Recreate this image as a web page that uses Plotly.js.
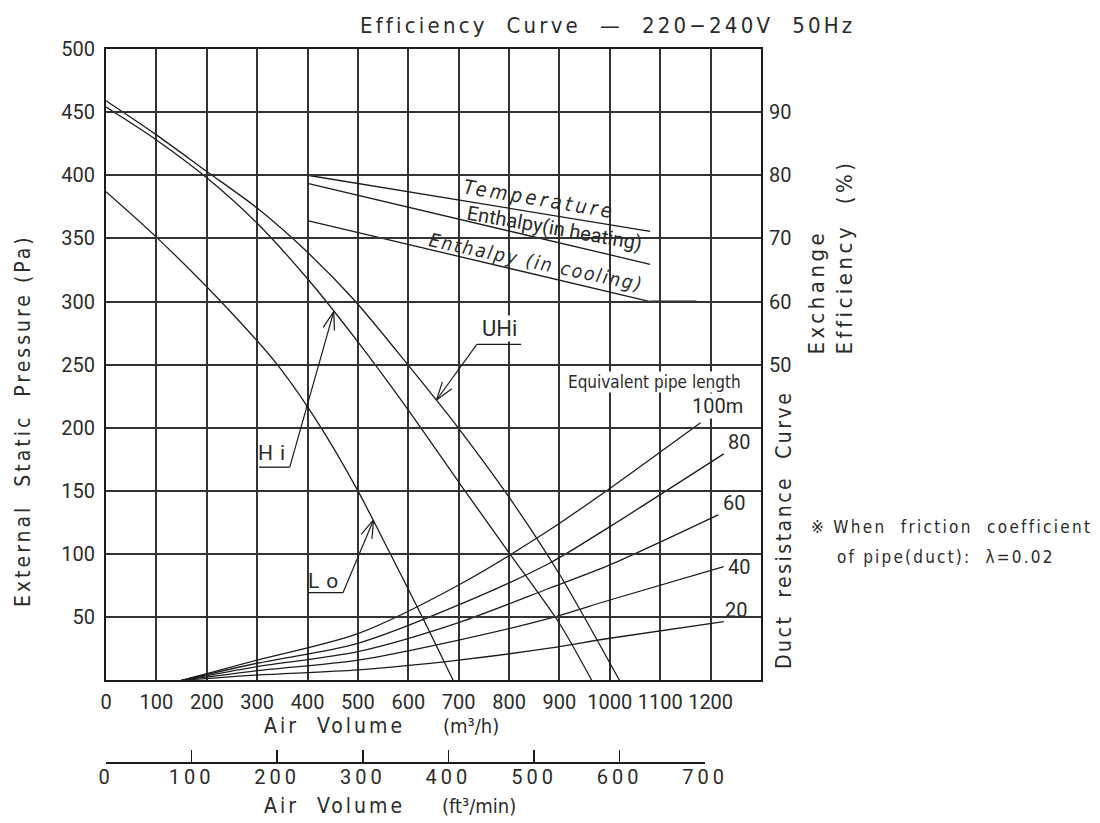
<!DOCTYPE html>
<html><head><meta charset="utf-8">
<script src="https://cdn.plot.ly/plotly-3.0.1.min.js"></script>
<style>
body{margin:0;background:#fff}
#chart{width:1100px;height:823px}
text[data-unformatted^="Efficiency"]{letter-spacing:3.2px}
text[data-unformatted^="External"]{letter-spacing:3px}
text[data-unformatted^="Exchange"]{letter-spacing:3.5px}
text[data-unformatted^="Duct"]{letter-spacing:2.5px}
text[data-unformatted^="※"]{letter-spacing:2.3px}
text[data-unformatted^="of pipe"]{letter-spacing:2.2px}
text[data-unformatted^="Air"]{letter-spacing:3px}
text[data-unformatted="Temperature"]{letter-spacing:3.5px}
text[data-unformatted="Enthalpy (in cooling)"]{letter-spacing:2px}
text[data-unformatted="Hi"],text[data-unformatted="Lo"]{letter-spacing:7px}
.x2tick text{letter-spacing:4px}
</style></head><body><div id="chart"></div><script>
// ---------- data ----------
const xTickVals = [0,100,200,300,400,500,600,700,800,900,1000,1100,1200];
const yTickVals = [50,100,150,200,250,300,350,400,450,500];
const effTickVals = [50,60,70,80,90];
const cfmTickVals = [0,100,200,300,400,500,600,700];

// fan curves: air volume (m3/h) vs external static pressure (Pa)
const uhiX = [0,100,200,300,400,493,599,699,800,900,1019];
const uhiP = [459,432,403,374,339,301,250,200,145,84,0];
const hiX  = [0,100,200,300,400,500,600,700,800,900,964];
const hiP  = [454,428,398,362,318,268,214,157,101,45,0];
const loX  = [0,100,228,340,427,500,562,628,689];
const loP  = [387,351,300,250,200,150,102,50,0];

// duct resistance curves (equivalent pipe length)
const ductX   = [150,300,500,700,880,1000];
const duct100 = [0,16,37,75.5,119,152];
const duct80  = [0,13.5,29.3,59.7,92.7,121.7];
const duct60  = [0,10.8,22.7,45.7,72.9,91.4];
const duct40  = [0,7.6,16,31.9,49,63.6];
const duct20  = [0,4.2,8.2,16,25.4,33.3];
const ductEndX = {d100:1180, d80:1226, d60:1215, d40:1226, d20:1226};
const ductEndP = {d100:204, d80:179.3, d60:131, d40:90, d20:46.4};

// exchange efficiency (%)
const effX = [400,1080];
const effTemp = [80,71.1];
const effHeat = [78.7,65.9];
const effCool = [72.8,60.0];
const coolLeadX = [1080,1172];
const coolLeadY = [60,60];

// ---------- chart ----------
const INK = '#1c1c1c';
const GRID = '#333';
const TXT = '#2b2b2b';
const NARROW = "'Liberation Sans Narrow','DejaVu Sans Condensed','Roboto Condensed',sans-serif";
const REG = "Roboto, 'Open Sans', sans-serif";

function line(x, y, opts) {
  return Object.assign({x:x, y:y, type:'scatter', mode:'lines', hoverinfo:'skip', showlegend:false,
    line:{color:INK, width:1.3, shape:'spline', smoothing:0.8}}, opts||{});
}
const traces = [
  line(uhiX, uhiP), line(hiX, hiP), line(loX, loP),
  line(ductX.concat([ductEndX.d100]), duct100.concat([ductEndP.d100])),
  line(ductX.concat([ductEndX.d80]), duct80.concat([ductEndP.d80])),
  line(ductX.concat([ductEndX.d60]), duct60.concat([ductEndP.d60])),
  line(ductX.concat([ductEndX.d40]), duct40.concat([ductEndP.d40])),
  line(ductX.concat([ductEndX.d20]), duct20.concat([ductEndP.d20])),
  line(effX, effTemp, {yaxis:'y2', line:{color:INK, width:1.3}}),
  line(effX, effHeat, {yaxis:'y2', line:{color:INK, width:1.3}}),
  line(effX, effCool, {yaxis:'y2', line:{color:INK, width:1.3}}),
  line(coolLeadX, coolLeadY, {yaxis:'y2', line:{color:INK, width:2}}),
  {x:[], y:[], xaxis:'x2', yaxis:'y', type:'scatter', mode:'lines', showlegend:false, hoverinfo:'skip'}
];

const W = 1100, H = 823, L = 106, R = 761, T = 49, B = 762;
const mainBottom = 680.3;
const pX = v => (v - L) / (R - L);
const pY = v => (B - v) / (B - T);
const SX = (R - L) / 1300, SY = (mainBottom - T) / 500;   // px per data unit

const tickFont = {family: REG, size: 20, color: TXT};

function ann(text, x, y, o) {
  return Object.assign({text:text, x:x, y:y, xref:'paper', yref:'paper', showarrow:false,
    xanchor:'center', yanchor:'middle', font:{family:NARROW, size:21, color:TXT}}, o||{});
}
function dAnn(text, x, y, o) {
  return Object.assign({text:text, x:x, y:y, xref:'x', yref:'y', showarrow:false,
    xanchor:'center', yanchor:'middle', font:{family:REG, size:20, color:TXT}}, o||{});
}
function seg(x0, y0, x1, y1, w) {
  return {type:'line', xref:'x', yref:'y', x0:x0, y0:y0, x1:x1, y1:y1, line:{color:INK, width:w||1.3}};
}
// leader with open arrow head: tip on the curve, tail at the label underline
function leader(tipX, tipY, tailX, tailY) {
  const dx = (tailX - tipX) * SX, dy = -(tailY - tipY) * SY;
  const len = Math.hypot(dx, dy), ux = dx / len, uy = dy / len;
  const out = [seg(tailX, tailY, tipX, tipY, 1.2)];
  [18, -18].forEach(function (deg) {
    const a = deg * Math.PI / 180, hl = 19;
    const rx = ux * Math.cos(a) - uy * Math.sin(a), ry = ux * Math.sin(a) + uy * Math.cos(a);
    out.push(seg(tipX, tipY, tipX + rx * hl / SX, tipY - ry * hl / SY, 1.2));
  });
  return out;
}

const annotations = [
  ann('Efficiency\u00a0 Curve\u00a0 —\u00a0 220−240V\u00a0 50Hz', pX(607), pY(25), {font:{family:NARROW, size:22, color:TXT}}),
  ann('External\u00a0 Static\u00a0 Pressure (Pa)', pX(23), pY(421), {textangle:-90}),
  ann('Exchange<br>Efficiency\u00a0 (%)', pX(830), pY(357), {textangle:-90, align:'left', yanchor:'bottom', font:{family:NARROW, size:22, color:TXT}}),
  ann('Duct\u00a0 resistance\u00a0 Curve', pX(784), pY(530), {textangle:-90}),
  ann('※ When\u00a0 friction\u00a0 coefficient', pX(809), pY(526.5), {xanchor:'left', font:{family:NARROW, size:17, color:TXT}}),
  ann('of pipe(duct):\u00a0 λ=0.02', pX(834.5), pY(557), {xanchor:'left', font:{family:NARROW, size:17, color:TXT}}),
  ann('Air\u00a0 Volume', pX(262), pY(726), {xanchor:'left'}),
  ann('(m³/h)', pX(441), pY(726), {xanchor:'left', font:{family:NARROW, size:20, color:TXT}}),
  ann('Air\u00a0 Volume', pX(262), pY(806), {xanchor:'left'}),
  ann('(ft³/min)', pX(440), pY(806), {xanchor:'left', font:{family:NARROW, size:20, color:TXT}}),

  dAnn('UHi', 780, 267.7, {yanchor:'bottom', font:{family:REG, size:22, color:TXT}, bgcolor:'#fff', borderpad:0}),
  dAnn('Hi', 336, 180, {font:{family:REG, size:21, color:TXT}}),
  dAnn('Lo', 438, 78.7, {font:{family:REG, size:21, color:TXT}}),
  dAnn('Temperature', 861, 381.4, {textangle:9.5, font:{family:NARROW, size:20, style:'italic', color:TXT}}),
  dAnn('Enthalpy(in heating)', 891, 358.5, {textangle:10, font:{family:REG, size:20, color:TXT}}),
  dAnn('Enthalpy (in cooling)', 854.5, 331, {textangle:12, font:{family:NARROW, size:19, style:'italic', color:TXT}}),
  dAnn('Equivalent pipe length', 1088.6, 236, {font:{family:NARROW, size:17, color:TXT}, bgcolor:'#fff', borderpad:0}),
  dAnn('100m', 1212.7, 217.4, {bgcolor:'#fff', borderpad:0}),
  dAnn('80', 1256, 188.4),
  dAnn('60', 1246, 140.3),
  dAnn('40', 1256, 90),
  dAnn('20', 1251, 55.7)
];

const shapes = [
  seg(736, 266, 824, 266),
  seg(303.7, 168.8, 364.7, 168.8),
  seg(401, 69.4, 470.3, 69.4)
].concat(leader(656, 222, 736, 266), leader(452, 292, 364.7, 168.8), leader(531, 127, 470.3, 69.4));

const axisCommon = {showline:true, linecolor:INK, linewidth:2, zeroline:false, fixedrange:true,
  tickfont:tickFont, ticks:'', gridcolor:GRID, gridwidth:2};

const layout = {
  width:W, height:H, paper_bgcolor:'#fff', plot_bgcolor:'rgba(0,0,0,0)',
  margin:{l:L, r:W-R, t:T, b:H-B, pad:0},
  showlegend:false,
  xaxis: Object.assign({}, axisCommon, {range:[0,1300], domain:[0,1], anchor:'y', mirror:true,
    tickvals:xTickVals, showgrid:true, ticklabelstandoff:3}),
  yaxis: Object.assign({}, axisCommon, {range:[0,500], domain:[(B-mainBottom)/(B-T),1], anchor:'x', mirror:true,
    tickvals:yTickVals, showgrid:true, ticklabelstandoff:5}),
  yaxis2: Object.assign({}, axisCommon, {range:[0,100], overlaying:'y', side:'right', anchor:'x',
    showline:false, showgrid:false, tickvals:effTickVals, ticklabelstandoff:7}),
  xaxis2: Object.assign({}, axisCommon, {range:[0,700], domain:[0,700*1.69901/1300], anchor:'free', position:0,
    showgrid:false, mirror:false, ticks:'inside', ticklen:12, tickwidth:1.5, tickcolor:INK,
    tickvals:cfmTickVals, linewidth:1.6, ticklabelstandoff:-4}),
  annotations: annotations,
  shapes: shapes
};

Plotly.newPlot('chart', traces, layout, {staticPlot:true, displayModeBar:false});
</script></body></html>
